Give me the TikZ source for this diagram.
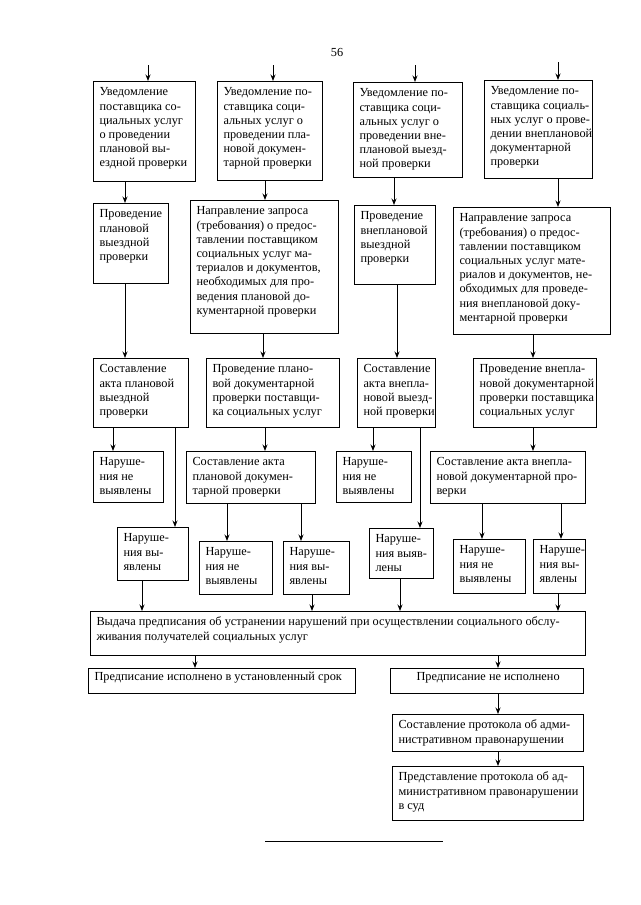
\documentclass[tikz,border=0pt]{standalone}
\usepackage{fontspec}
\setmainfont{Liberation Serif}
\usetikzlibrary{arrows.meta}
\newlength\padx \setlength\padx{6.5pt}
\tikzset{
  every node/.style={font=\fontsize{12.3}{14.2}\selectfont},
  box/.style={draw, line width=0.9pt, anchor=north west, inner xsep=\padx, inner ysep=0pt, outer sep=0pt},
  arr/.style={line width=0.9pt, -{Stealth[length=6.5pt,width=5pt]}},
  plain/.style={line width=0.9pt}
}
% #1 top pad, #2 name, #3 x1, #4 y1, #5 x2, #6 y2, #7 lines
\newcommand\bx[7][5pt]{%
  \node[box] (#2) at (#3,-#4) {\parbox[t][\dimexpr#6pt-#4pt\relax][t]{\dimexpr#5pt-#3pt-2\padx\relax}{\vspace*{#1}\begin{tabular}[t]{@{}l@{}}#7\end{tabular}}};}
\newcommand\vc[3]{\draw[arr] (#1.south -| #3,0) -- (#2.north -| #3,0);}
\begin{document}
\begin{tikzpicture}[x=1pt,y=1pt]
\fill[white] (0,0) rectangle (640,-905);
\useasboundingbox (0,0) rectangle (640,-905);

\node (pg) at (337,-52) {56};

% row A
\bx{A1}{93}{81}{195}{181}{Уведомление\\поставщика со-\\циальных услуг\\о проведении\\плановой вы-\\ездной проверки}
\bx{A2}{217}{81}{322}{180}{Уведомление по-\\ставщика соци-\\альных услуг о\\проведении пла-\\новой докумен-\\тарной проверки}
\bx{A3}{353}{82}{462}{177}{Уведомление по-\\ставщика соци-\\альных услуг о\\проведении вне-\\плановой выезд-\\ной проверки}
\bx{A4}{484}{80}{592}{178}{Уведомление по-\\ставщика социаль-\\ных услуг о прове-\\дении внеплановой\\документарной\\проверки}

% row B
\bx{B1}{93}{203}{168}{283}{Проведение\\плановой\\выездной\\проверки}
\bx{B2}{190}{200}{338}{333}{Направление запроса\\(требования) о предос-\\тавлении поставщиком\\социальных услуг ма-\\териалов и документов,\\необходимых для про-\\ведения плановой до-\\кументарной проверки}
\bx{B3}{354}{205}{435}{284}{Проведение\\внеплановой\\выездной\\проверки}
\bx{B4}{453}{207}{610}{334}{Направление запроса\\(требования) о предос-\\тавлении поставщиком\\социальных услуг мате-\\риалов и документов, не-\\обходимых для проведе-\\ния внеплановой доку-\\ментарной проверки}

% row C
\bx{C1}{93}{358}{188}{427}{Составление\\акта плановой\\выездной\\проверки}
\bx{C2}{206}{358}{339}{427}{Проведение плано-\\вой документарной\\проверки поставщи-\\ка социальных услуг}
\bx{C3}{357}{358}{435}{427}{Составление\\акта внепла-\\новой выезд-\\ной проверки}
\bx{C4}{473}{358}{596}{427}{Проведение внепла-\\новой документарной\\проверки поставщика\\социальных услуг}

% row D
\bx{D1}{93}{451}{163}{502}{Наруше-\\ния не\\выявлены}
\bx{D2}{186}{451}{315}{503}{Составление акта\\плановой докумен-\\тарной проверки}
\bx{D3}{336}{451}{411}{502}{Наруше-\\ния не\\выявлены}
\bx{D4}{430}{451}{585}{503}{Составление акта внепла-\\новой документарной про-\\верки}

% row E
\bx{E1}{117}{527}{188}{580}{Наруше-\\ния вы-\\явлены}
\bx{E2}{199}{541}{272}{594}{Наруше-\\ния не\\выявлены}
\bx{E2b}{283}{541}{349}{594}{Наруше-\\ния вы-\\явлены}
\bx{E3}{369}{528}{433}{578}{Наруше-\\ния выяв-\\лены}
\bx{E4}{453}{539}{525}{593}{Наруше-\\ния не\\выявлены}
\bx{E4b}{533}{539}{585}{593}{Наруше-\\ния вы-\\явлены}

% bottom part
\bx{P}{90}{611}{585}{655}{Выдача предписания об устранении нарушений при осуществлении социального обслу-\\живания получателей социальных услуг}
\bx[3pt]{F1}{88}{668}{355}{693}{Предписание исполнено в установленный срок}
\bx[3pt]{F2}{390}{668}{583}{693}{\hspace*{20pt}Предписание не исполнено}
\bx{G1}{392}{714}{583}{751}{Составление протокола об адми-\\нистративном правонарушении}
\bx{G2}{392}{766}{583}{820}{Представление протокола об ад-\\министративном правонарушении\\в суд}

% incoming arrows
\coordinate (i1) at (148,-65);
\coordinate (i2) at (273,-65);
\coordinate (i3) at (415,-65);
\coordinate (i4) at (558,-62);
\draw[arr] (i1) -- (A1.north -| i1);
\draw[arr] (i2) -- (A2.north -| i2);
\draw[arr] (i3) -- (A3.north -| i3);
\draw[arr] (i4) -- (A4.north -| i4);

% connectors
\vc{A1}{B1}{125}
\vc{A2}{B2}{265}
\vc{A3}{B3}{394}
\vc{A4}{B4}{558}
\vc{B1}{C1}{125}
\vc{B2}{C2}{263}
\vc{B3}{C3}{397}
\vc{B4}{C4}{533}
\vc{C1}{D1}{113}
\vc{C1}{E1}{175}
\vc{C2}{D2}{265}
\vc{C3}{D3}{373}
\vc{C3}{E3}{420}
\vc{C4}{D4}{533}
\vc{D2}{E2}{227}
\vc{D2}{E2b}{301}
\vc{D4}{E4}{482}
\vc{D4}{E4b}{561}
\vc{E1}{P}{142}
\vc{E2b}{P}{312}
\vc{E3}{P}{400}
\vc{E4b}{P}{558}
\vc{P}{F1}{195}
\vc{P}{F2}{498}
\vc{F2}{G1}{498}
\vc{G1}{G2}{498}

% footnote rule
\coordinate (r1) at (265,-841);
\coordinate (r2) at (443,-841);
\draw[plain] (r1) -- (r2);
\end{tikzpicture}
\end{document}
